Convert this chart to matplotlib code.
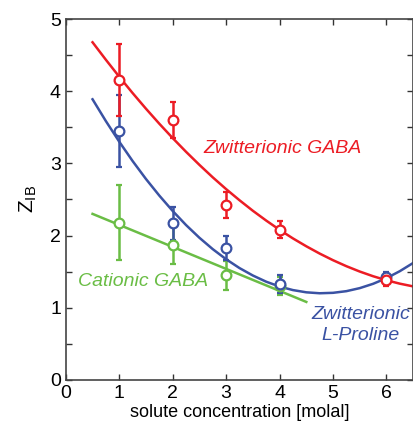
import matplotlib
matplotlib.use("Agg")
import matplotlib.pyplot as plt
from matplotlib.ticker import MultipleLocator

plt.rcParams['font.family'] = ['Liberation Sans', 'DejaVu Sans']

# measured points (x = molal, y = Z_IB, err = half error bar)
x_red = [1, 2, 3, 4, 6]
y_red = [4.15, 3.60, 2.42, 2.08, 1.38]
e_red = [0.50, 0.25, 0.18, 0.12, 0.08]

x_blue = [1, 2, 3, 4, 6]
y_blue = [3.45, 2.17, 1.83, 1.33, 1.42]
e_blue = [0.50, 0.23, 0.17, 0.12, 0.08]

x_green = [1, 2, 3, 4]
y_green = [2.18, 1.87, 1.45, 1.30]
e_green = [0.52, 0.26, 0.20, 0.12]

# fitted curves
fit_x = [0.5, 0.75, 1.0, 1.25, 1.5, 1.75, 2.0, 2.25, 2.5, 2.75, 3.0, 3.25, 3.5,
         3.75, 4.0, 4.25, 4.5, 4.75, 5.0, 5.25, 5.5, 5.75, 6.0, 6.25, 6.5]
fit_red = [4.678, 4.435, 4.200, 3.974, 3.757, 3.549, 3.350, 3.160, 2.979, 2.806,
           2.643, 2.489, 2.343, 2.207, 2.079, 1.960, 1.851, 1.750, 1.658, 1.575,
           1.501, 1.436, 1.380, 1.333, 1.295]
fit_blue = [3.888, 3.585, 3.300, 3.032, 2.783, 2.553, 2.340, 2.145, 1.969, 1.811,
            1.671, 1.549, 1.446, 1.360, 1.293, 1.244, 1.213, 1.200, 1.206, 1.229,
            1.271, 1.331, 1.409, 1.506, 1.620]
fit_green_x = [0.5, 4.5]
fit_green = [2.30, 1.08]

red = '#ec1c24'
blue = '#3a52a3'
green = '#6abd45'

fig = plt.figure(figsize=(4.14, 4.23), dpi=100)
ax = fig.add_axes([0.159, 0.102, 0.839, 0.853])

for fx, fy, xs, ys, es, c in [
        (fit_green_x, fit_green, x_green, y_green, e_green, green),
        (fit_x, fit_blue, x_blue, y_blue, e_blue, blue),
        (fit_x, fit_red, x_red, y_red, e_red, red)]:
    ax.plot(fx, fy, color=c, lw=1.8)
    ax.errorbar(xs, ys, yerr=es, fmt='o', color=c, mfc='white', mec=c,
                ms=7, mew=1.6, elinewidth=1.8, capsize=2.5, capthick=1.6)

ax.text(4.05, 3.21, 'Zwitterionic GABA', color=red, style='italic',
        fontsize=14, ha='center', va='center')
ax.text(1.45, 1.36, 'Cationic GABA', color=green, style='italic',
        fontsize=14, ha='center', va='center')
ax.text(5.52, 0.76, 'Zwitterionic\nL-Proline', color=blue, style='italic',
        fontsize=14, ha='center', va='center', linespacing=1.25)

ax.set_xlim(0, 6.5)
ax.set_ylim(0, 5)
ax.xaxis.set_major_locator(MultipleLocator(1))
ax.yaxis.set_major_locator(MultipleLocator(1))
ax.yaxis.set_minor_locator(MultipleLocator(0.5))
ax.tick_params(which='both', direction='in', top=True, right=True,
               labelsize=14, width=1, colors='#333333', labelcolor='black')
ax.tick_params(which='major', length=4)
ax.tick_params(which='minor', length=4)
for s in ax.spines.values():
    s.set_color('#444444')
    s.set_linewidth(1.2)

ax.set_xlabel('solute concentration [molal]', fontsize=13, labelpad=2)
ax.set_ylabel(r'$\mathregular{Z_{IB}}$', fontsize=15, labelpad=8)

fig.savefig('out.png', dpi=100)
